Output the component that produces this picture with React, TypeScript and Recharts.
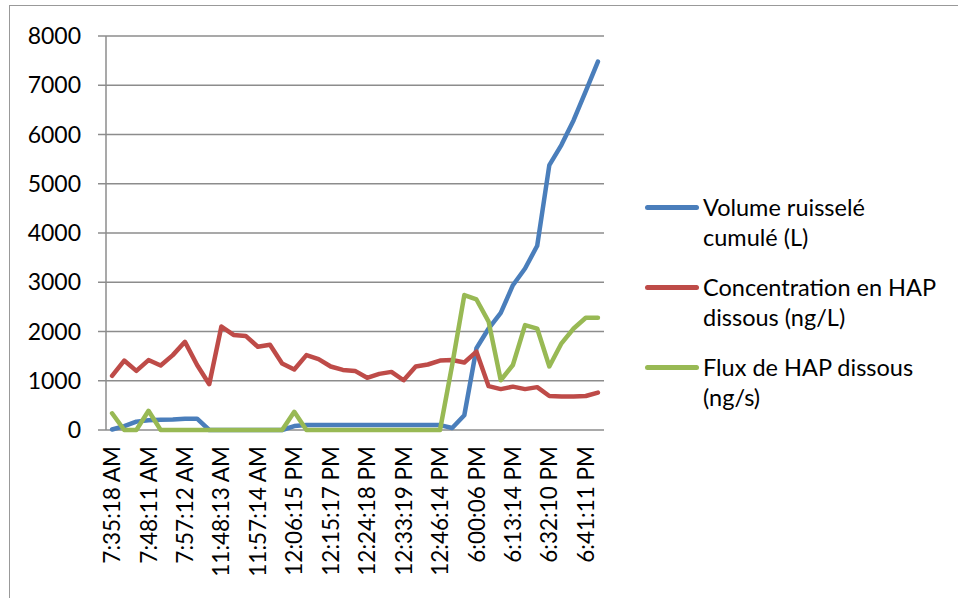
import React from 'react';
import { LineChart, Line, XAxis, YAxis, CartesianGrid, Legend } from 'recharts';

// tick labels shown on the category axis (one every 3 samples)
const timeLabels = [
  '7:35:18 AM', '7:48:11 AM', '7:57:12 AM', '11:48:13 AM', '11:57:14 AM',
  '12:06:15 PM', '12:15:17 PM', '12:24:18 PM', '12:33:19 PM', '12:46:14 PM',
  '6:00:06 PM', '6:13:14 PM', '6:32:10 PM', '6:41:11 PM',
];
const labelStep = 3;

const volume = [
  10, 80, 170, 200, 210, 215, 230, 230, 0, 0,
  0, 0, 0, 0, 0, 80, 100, 100, 100, 100,
  100, 100, 100, 100, 100, 100, 100, 100, 40, 300,
  1660, 2060, 2380, 2940, 3280, 3740, 5380, 5790, 6290, 6880,
  7480,
];
const concentration = [
  1100, 1410, 1200, 1420, 1310, 1520, 1790, 1320, 930, 2100,
  1930, 1910, 1690, 1730, 1350, 1230, 1520, 1440, 1290, 1220,
  1200, 1060, 1140, 1180, 1010, 1290, 1330, 1410, 1420, 1370,
  1590, 890, 830, 880, 830, 870, 690, 680, 680, 690,
  760,
];
const flux = [
  340, 0, 0, 390, 0, 0, 0, 0, 0, 0,
  0, 0, 0, 0, 0, 370, 0, 0, 0, 0,
  0, 0, 0, 0, 0, 0, 0, 0, 1320, 2740,
  2650, 2200, 1010, 1320, 2130, 2060, 1290, 1760, 2060, 2280,
  2280,
];
const yTicks = [0, 1000, 2000, 3000, 4000, 5000, 6000, 7000, 8000];
const seriesOrder = ['volume', 'concentration', 'flux'];

const data = volume.map((v, i) => ({
  idx: i,
  volume: v,
  concentration: concentration[i],
  flux: flux[i],
}));

const n = data.length;
const labelTicks = timeLabels.map((_, k) => k * labelStep);
const boundaryTicks = Array.from({ length: n + 1 }, (_, i) => i - 0.5);

const FONT = 'Lato, "Open Sans", sans-serif';
const GRID = '#8c8c8c';

const TimeTick = (props: any) => {
  const { x, y, payload } = props;
  const label = timeLabels[Math.round(payload.value / labelStep)];
  return (
    <text
      x={x}
      y={y}
      dx={-16}
      dy="0.36em"
      transform={`rotate(-90, ${x}, ${y})`}
      textAnchor="end"
      fontFamily={FONT}
      fontSize={22.5}
      fill="#000"
    >
      {label}
    </text>
  );
};

const EmptyTick = () => <g />;

const renderLegend = (props: any) => {
  const items = [...(props.payload || [])].sort(
    (a: any, b: any) => seriesOrder.indexOf(a.dataKey) - seriesOrder.indexOf(b.dataKey)
  );
  return (
    <div style={{ fontFamily: FONT, fontSize: 23.5, color: '#000' }}>
      {items.map((entry: any) => (
        <div key={entry.dataKey} style={{ display: 'flex', alignItems: 'flex-start', marginBottom: 20 }}>
          <span
            style={{
              display: 'inline-block',
              flex: 'none',
              width: 54,
              height: 5,
              borderRadius: 3,
              background: entry.color,
              marginTop: 13,
              marginRight: 4,
            }}
          />
          <span style={{ whiteSpace: 'pre-line', lineHeight: '30px', textAlign: 'left' }}>{entry.value}</span>
        </div>
      ))}
    </div>
  );
};

export default function App() {
  return (
    <div style={{ position: 'absolute', left: 0, top: 0, width: 958, height: 598, background: '#fff' }}>
      <div
        style={{
          position: 'absolute',
          left: 9,
          top: 5,
          width: 960,
          height: 600,
          borderTop: '1.5px solid #999',
          borderLeft: '1.5px solid #999',
        }}
      />
      <LineChart
        width={958}
        height={598}
        data={data}
        margin={{ top: 36, right: 354, bottom: 8, left: 0 }}
      >
        <CartesianGrid xAxisId="cat" vertical={false} stroke={GRID} strokeWidth={1.5} />
        <XAxis
          xAxisId="marks"
          type="number"
          dataKey="idx"
          domain={[-0.5, n - 0.5]}
          ticks={boundaryTicks}
          interval={0}
          tick={<EmptyTick />}
          tickSize={7}
          stroke={GRID}
          strokeWidth={1.5}
          height={0}
        />
        <XAxis
          xAxisId="cat"
          type="number"
          dataKey="idx"
          domain={[-0.5, n - 0.5]}
          ticks={labelTicks}
          interval={0}
          tick={<TimeTick />}
          tickLine={false}
          axisLine={false}
          tickSize={0}
          tickMargin={0}
          height={160}
        />
        <YAxis
          domain={[0, 8000]}
          ticks={yTicks}
          interval={0}
          width={106}
          tickSize={8}
          tickMargin={17}
          stroke={GRID}
          strokeWidth={1.5}
          tick={{ fontFamily: FONT, fontSize: 23, fill: '#000' }}
        />
        <Legend
          layout="horizontal"
          align="center"
          verticalAlign="middle"
          content={renderLegend}
          wrapperStyle={{ left: 645, top: 192, width: 312 }}
        />
        <Line
          xAxisId="cat"
          type="linear"
          dataKey="volume"
          name={'Volume ruisselé\ncumulé (L)'}
          stroke="#4A7EBB"
          strokeWidth={4.5}
          strokeLinejoin="round"
          strokeLinecap="round"
          dot={false}
          isAnimationActive={false}
        />
        <Line
          xAxisId="cat"
          type="linear"
          dataKey="concentration"
          name={'Concentration en HAP\ndissous (ng/L)'}
          stroke="#BE4B48"
          strokeWidth={4.5}
          strokeLinejoin="round"
          strokeLinecap="round"
          dot={false}
          isAnimationActive={false}
        />
        <Line
          xAxisId="cat"
          type="linear"
          dataKey="flux"
          name={'Flux de HAP dissous\n(ng/s)'}
          stroke="#98B954"
          strokeWidth={4.5}
          strokeLinejoin="round"
          strokeLinecap="round"
          dot={false}
          isAnimationActive={false}
        />
      </LineChart>
    </div>
  );
}
